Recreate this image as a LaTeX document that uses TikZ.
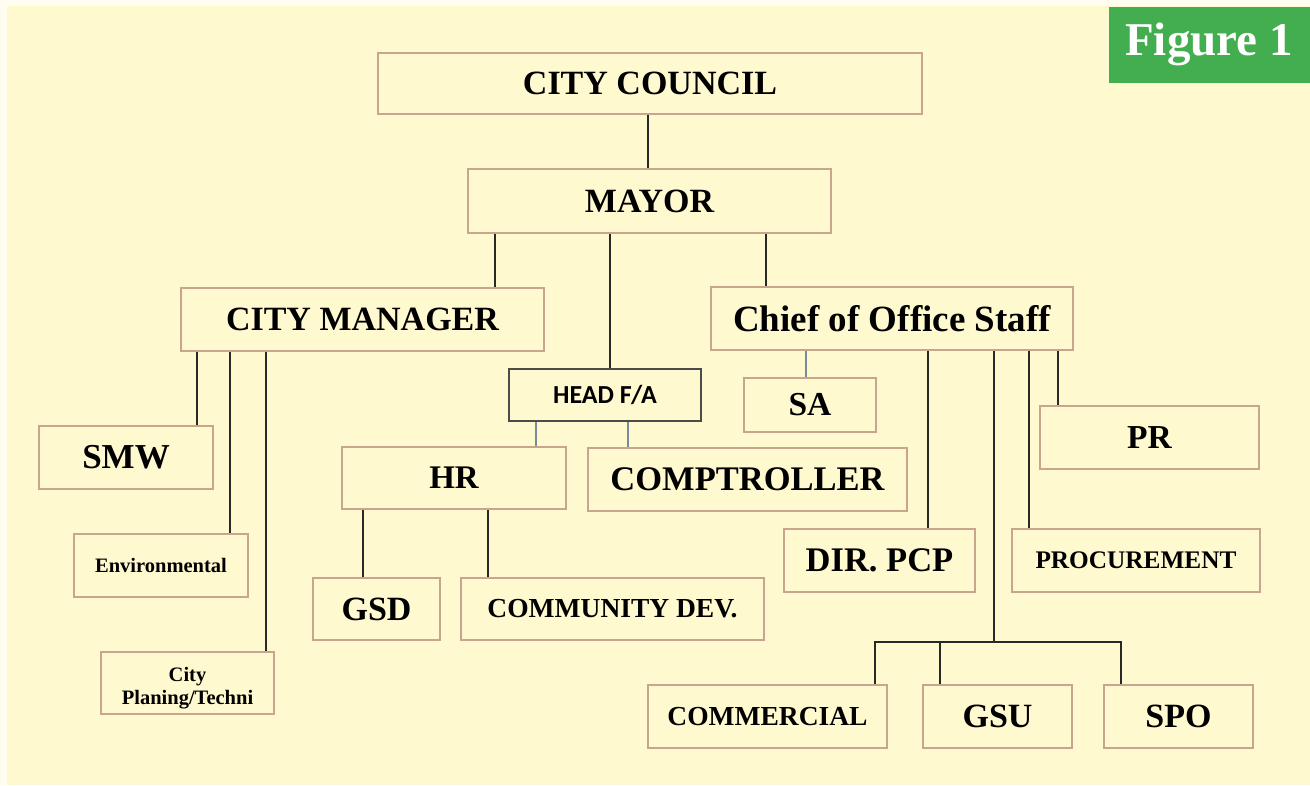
\documentclass[tikz,border=0pt]{standalone}
\usepackage{fontspec}
\setmainfont{Liberation Serif}
\newfontfamily\calfont{Carlito}
\usetikzlibrary{calc}

\definecolor{paper}{RGB}{255,252,240}
\definecolor{cream}{RGB}{255,249,208}
\definecolor{boxline}{RGB}{200,166,142}
\definecolor{wirecol}{RGB}{40,40,40}
\definecolor{softcol}{RGB}{120,138,155}
\definecolor{badgecol}{RGB}{67,174,79}
\definecolor{headcol}{RGB}{75,75,75}

\tikzset{
  unit/.style={draw=boxline, line width=1.8pt, fill=cream, inner sep=0pt, align=center},
  fs/.style={font=\bfseries\fontsize{#1}{24}\selectfont},
  wire/.style={draw=wirecol, line width=1.8pt},
  softwire/.style={draw=softcol, line width=1.4pt},
}

\begin{document}
\begin{tikzpicture}[x=1pt,y=-1pt]
  % page and cream background
  \useasboundingbox (0,0) rectangle (1310,785);
  \fill[paper] (0,0) rectangle (1310,785);
  \fill[cream] (7,6) rectangle (1310,785);

  % title badge
  \node[fill=badgecol, minimum width=201pt, minimum height=76pt, inner sep=0pt] (badge) at (1209.5,45) {};
  \node[text=white, font=\bfseries\fontsize{47}{50}\selectfont, anchor=base, inner sep=0pt] (badgetext) at (1209,55) {Figure 1};

  % top levels
  \node[unit, minimum width=544pt, minimum height=61pt, fs=34] (council) at (650,83.5) {CITY COUNCIL};
  \node[unit, minimum width=363pt, minimum height=64pt, fs=34] (mayor) at (649.5,201) {MAYOR};
  \node[unit, minimum width=363pt, minimum height=63pt, fs=34] (cm) at (362.5,319.5) {CITY MANAGER};
  \node[unit, minimum width=362pt, minimum height=63pt, fs=37] (chief) at (892,318.5) {Chief of Office Staff};
  \node[unit, draw=headcol, minimum width=192pt, minimum height=52pt, font=\calfont\bfseries\fontsize{26}{28}\selectfont] (headfa) at (605,395) {HEAD F/A};

  % city manager branch
  \node[unit, minimum width=174pt, minimum height=63pt, fs=35] (smw) at (126,457.5) {SMW};
  \node[unit, minimum width=174pt, minimum height=63pt, fs=20.5] (env) at (161,565.5) {Environmental};
  \node[unit, minimum width=173pt, minimum height=62pt] (cityplan) at (187.5,683) {};
  \node[align=center, inner sep=0pt, font=\bfseries\fontsize{20.5}{23}\selectfont] (cityplantext) at (187.5,688) {City\\Planing/Techni};

  % finance branch
  \node[unit, minimum width=224pt, minimum height=62pt, fs=33] (hr) at (454,478) {HR};
  \node[unit, minimum width=319pt, minimum height=63pt, fs=34.5] (comp) at (747.5,479.5) {COMPTROLLER};
  \node[unit, minimum width=127pt, minimum height=62pt, fs=34] (gsd) at (376.5,609) {GSD};
  \node[unit, minimum width=303pt, minimum height=62pt, fs=27.5] (commdev) at (612.5,609) {COMMUNITY DEV.};

  % office staff branch
  \node[unit, minimum width=132pt, minimum height=54pt, fs=33.5] (sa) at (810,405) {SA};
  \node[unit, minimum width=219pt, minimum height=63pt, fs=33.5] (pr) at (1149.5,437.5) {PR};
  \node[unit, minimum width=191pt, minimum height=63pt, fs=34.5] (dirpcp) at (879.5,560.5) {DIR. PCP};
  \node[unit, minimum width=248pt, minimum height=63pt, fs=25.3] (proc) at (1136,560.5) {PROCUREMENT};
  \node[unit, minimum width=239pt, minimum height=63pt, fs=27.5] (commercial) at (767.5,716.5) {COMMERCIAL};
  \node[unit, minimum width=149pt, minimum height=63pt, fs=34] (gsu) at (997.5,716.5) {GSU};
  \node[unit, minimum width=149pt, minimum height=63pt, fs=34] (spo) at (1178.5,716.5) {SPO};

  % x positions of the connectors
  \coordinate (xcouncil) at (648,0);
  \coordinate (xcm) at (495,0);
  \coordinate (xhead) at (610,0);
  \coordinate (xchief) at (766,0);
  \coordinate (xsmw) at (197,0);
  \coordinate (xenv) at (230,0);
  \coordinate (xplan) at (266,0);
  \coordinate (xhr) at (536,0);
  \coordinate (xcomp) at (628,0);
  \coordinate (xgsd) at (363,0);
  \coordinate (xdev) at (488,0);
  \coordinate (xsa) at (806,0);
  \coordinate (xpcp) at (928,0);
  \coordinate (xproc) at (1029,0);
  \coordinate (xpr) at (1058,0);
  \coordinate (xcom) at (875,0);
  \coordinate (xgsu) at (940,0);
  \coordinate (xspo) at (1121,0);
  \coordinate (bus) at (994,642);

  % connectors
  \draw[wire] (council.south -| xcouncil) -- (mayor.north -| xcouncil);
  \draw[wire] (mayor.south -| xcm) -- (cm.north -| xcm);
  \draw[wire] (mayor.south -| xhead) -- (headfa.north -| xhead);
  \draw[wire] (mayor.south -| xchief) -- (chief.north -| xchief);

  \draw[wire] (cm.south -| xsmw) -- (smw.north -| xsmw);
  \draw[wire] (cm.south -| xenv) -- (env.north -| xenv);
  \draw[wire] (cm.south -| xplan) -- (cityplan.north -| xplan);

  \draw[softwire] (headfa.south -| xhr) -- (hr.north -| xhr);
  \draw[softwire] (headfa.south -| xcomp) -- (comp.north -| xcomp);
  \draw[wire] (hr.south -| xgsd) -- (gsd.north -| xgsd);
  \draw[wire] (hr.south -| xdev) -- (commdev.north -| xdev);

  \draw[softwire] (chief.south -| xsa) -- (sa.north -| xsa);
  \draw[wire] (chief.south -| xpcp) -- (dirpcp.north -| xpcp);
  \draw[wire] (chief.south -| xproc) -- (proc.north -| xproc);
  \draw[wire] (chief.south -| xpr) -- (pr.north -| xpr);
  \draw[wire] (chief.south -| bus) -- (bus);
  \draw[wire] (commercial.north -| xcom) -- (xcom |- bus) -- (xspo |- bus) -- (spo.north -| xspo);
  \draw[wire] (xgsu |- bus) -- (gsu.north -| xgsu);
\end{tikzpicture}
\end{document}
